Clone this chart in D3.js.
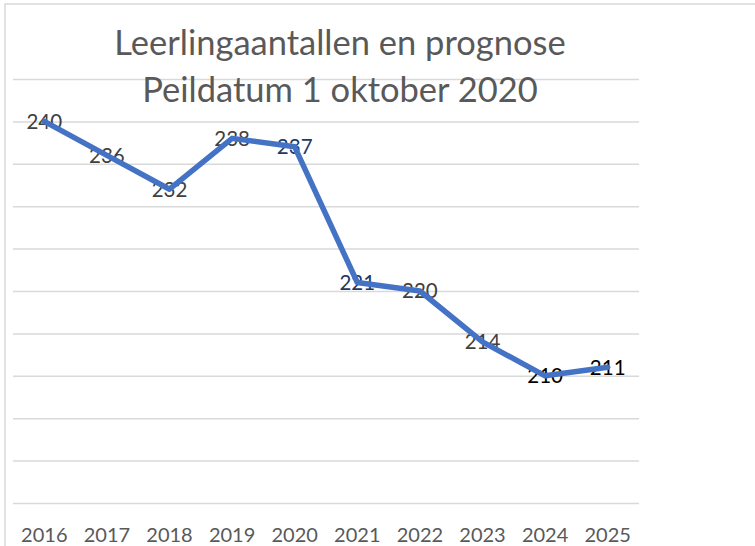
<!DOCTYPE html>
<html>
<head>
<meta charset="utf-8">
<script src="https://cdn.jsdelivr.net/npm/d3@7"></script>
<style>
  body { margin: 0; background: #fff; }
  svg { display: block; font-family: Lato, "Open Sans", sans-serif; }
</style>
</head>
<body>
<script>
"use strict";

// data
var years = ["2016", "2017", "2018", "2019", "2020", "2021", "2022", "2023", "2024", "2025"];
var leerlingen = [240, 236, 232, 238, 237, 221, 220, 214, 210, 211];
var labelColors = ["#404040", "#404040", "#404040", "#404040", "#1f3864", "#1f3864", "#404040", "#404040", "#000000", "#000000"];
var gridTicks = [195, 200, 205, 210, 215, 220, 225, 230, 235, 240, 245];
var titleLines = ["Leerlingaantallen en prognose", "Peildatum 1 oktober 2020"];

var W = 755, H = 546;
var plot = { left: 13, right: 639, top: 79, bottom: 503 };

var svg = d3.select("body").append("svg").attr("width", W).attr("height", H);

// chart area border (only top and left visible)
svg.append("path")
  .attr("d", "M5," + H + "V4H" + W)
  .attr("fill", "none").attr("stroke", "#d9d9d9").attr("stroke-width", 1.5);

var x = d3.scaleBand().domain(years).range([plot.left, plot.right]);
var y = d3.scaleLinear().domain([195, 245]).range([plot.bottom, plot.top]);

//Gridlines
var grid = svg.append("g").attr("transform", "translate(" + plot.left + ",0)")
  .call(d3.axisLeft(y).tickValues(gridTicks).tickSize(-(plot.right - plot.left)).tickFormat(""));
grid.select(".domain").remove();
grid.selectAll(".tick line").attr("stroke", "#d9d9d9").attr("stroke-width", 1.5);

//X axis
var xAxis = svg.append("g").attr("transform", "translate(0," + plot.bottom + ")")
  .call(d3.axisBottom(x).tickSize(0));
xAxis.select(".domain").remove();
xAxis.selectAll("text")
  .attr("y", 38.5).attr("dy", 0)
  .attr("fill", "#595959")
  .style("font-size", "20px")
  .style("font-family", "Lato, sans-serif");

//Title
svg.append("g").selectAll("text").data(titleLines).enter().append("text")
  .attr("x", 340)
  .attr("y", function (d, i) { return 55 + i * 47; })
  .attr("text-anchor", "middle")
  .attr("fill", "#595959")
  .style("font-size", "34.5px")
  .text(function (d) { return d; });

var pts = years.map(function (yr, i) {
  return { year: yr, value: leerlingen[i], color: labelColors[i] };
});

//Data labels
svg.append("g").selectAll("text").data(pts).enter().append("text")
  .attr("x", function (d) { return x(d.year) + x.bandwidth() / 2; })
  .attr("y", function (d) { return y(d.value); })
  .attr("dy", "0.36em")
  .attr("text-anchor", "middle")
  .attr("fill", function (d) { return d.color; })
  .style("font-size", "20.5px")
  .text(function (d) { return d.value; });

//Line
var line = d3.line()
  .x(function (d) { return x(d.year) + x.bandwidth() / 2; })
  .y(function (d) { return y(d.value); });

svg.append("path").datum(pts)
  .attr("d", line)
  .attr("fill", "none")
  .attr("stroke", "#4472c4")
  .attr("stroke-width", 5.5)
  .attr("stroke-linejoin", "round")
  .attr("stroke-linecap", "round");
</script>
</body>
</html>
